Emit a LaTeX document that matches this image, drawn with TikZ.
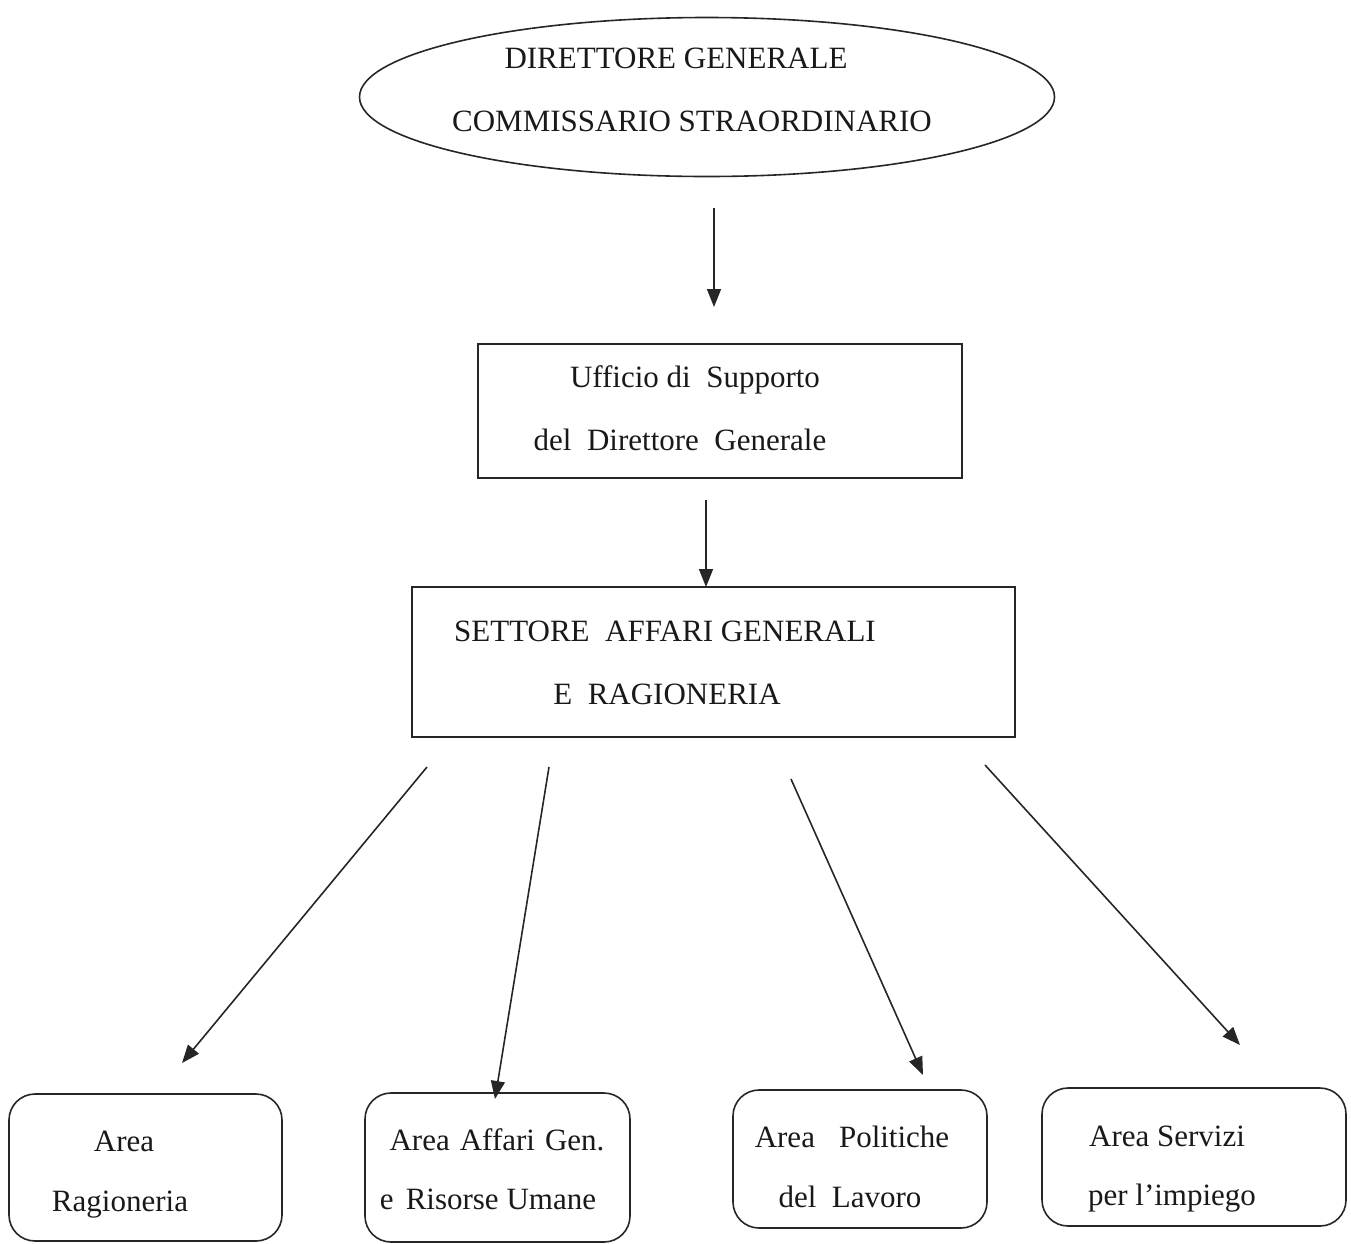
\documentclass[tikz,border=0pt]{standalone}
\usepackage{fontspec}
\setmainfont{Liberation Serif}
\usetikzlibrary{shapes.geometric,arrows.meta}
\begin{document}
\begin{tikzpicture}[x=1pt,y=-1pt,
  lbl/.style={anchor=base,inner sep=0pt,font=\fontsize{31}{37}\selectfont,text=black!90},
  sqbox/.style={draw=black!85,line width=1.6pt,rectangle,inner sep=0pt},
  rbox/.style={draw=black!85,line width=1.6pt,rectangle,rounded corners=26pt,inner sep=0pt},
  conn/.style={draw=black!85,line width=1.6pt,-{Triangle[length=18pt,width=14pt]}}]
\useasboundingbox (0,0) rectangle (1351,1243);
% shapes
\node[draw=black!85,line width=1.6pt,ellipse,minimum width=695pt,minimum height=159pt,inner sep=0pt] (dg) at (707,97) {};
\node[sqbox,minimum width=484pt,minimum height=134pt] (uff) at (720,411) {};
\node[sqbox,minimum width=603pt,minimum height=150pt] (sett) at (713.5,662) {};
\node[rbox,minimum width=273pt,minimum height=147pt] (ar) at (145.5,1167.5) {};
\node[rbox,minimum width=265pt,minimum height=149pt] (aa) at (497.5,1167.5) {};
\node[rbox,minimum width=254pt,minimum height=138pt] (ap) at (860,1159) {};
\node[rbox,minimum width=304pt,minimum height=138pt] (as) at (1194,1157) {};
% texts
\node[lbl] (t1) at (676,68) {DIRETTORE GENERALE};
\node[lbl] (t2) at (692,131) {COMMISSARIO STRAORDINARIO};
\node[lbl] (t3) at (695,387) {Ufficio di\ \ Supporto};
\node[lbl] (t4) at (680,450) {del\ \ Direttore\ \ Generale};
\node[lbl] (t5) at (665,641) {SETTORE\ \ AFFARI GENERALI};
\node[lbl] (t6) at (667,704) {E\ \ RAGIONERIA};
\node[lbl] (t7) at (124,1151) {Area};
\node[lbl] (t8) at (120,1211) {Ragioneria};
\node[lbl] (t9) at (497,1150) {Area\hspace{10pt}Affari\hspace{10pt}Gen.};
\node[lbl] (t10) at (488,1209) {e\hspace{12pt}Risorse Umane};
\node[lbl] (t11) at (852,1147) {Area\hspace{24pt}Politiche};
\node[lbl] (t12) at (850,1207) {del\ \ Lavoro};
\node[lbl] (t13) at (1167,1146) {Area Servizi};
\node[lbl] (t14) at (1172,1205) {per l’impiego};
% connector ends
\coordinate (a1s) at (714,208);
\coordinate (a1e) at (714,307);
\coordinate (a2s) at (706,500);
\coordinate (a2e) at (706,587);
\coordinate (d1s) at (427,767);
\coordinate (d1e) at (182,1063);
\coordinate (d2s) at (549,767);
\coordinate (d2e) at (495,1099);
\coordinate (d3s) at (791,779);
\coordinate (d3e) at (923,1075);
\coordinate (d4s) at (985,765);
\coordinate (d4e) at (1240,1045);
\draw[conn] (a1s) -- (a1e);
\draw[conn] (a2s) -- (a2e);
\draw[conn] (d1s) -- (d1e);
\draw[conn] (d2s) -- (d2e);
\draw[conn] (d3s) -- (d3e);
\draw[conn] (d4s) -- (d4e);
\end{tikzpicture}
\end{document}
